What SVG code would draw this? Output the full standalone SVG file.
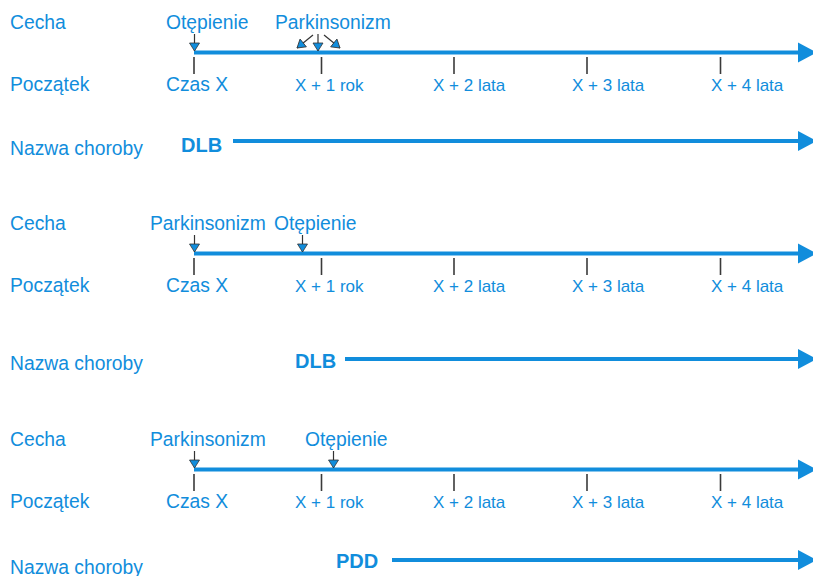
<svg xmlns="http://www.w3.org/2000/svg" width="813" height="576" viewBox="0 0 813 576">
  <style>
    text { font-family: "Liberation Sans", Arial, sans-serif; fill: #118ddc; }
    .lbl { font-size: 19.3px; }
    .tk { font-size: 17px; }
    .dis { font-size: 20px; font-weight: bold; }
    .axis { stroke: #118ddc; stroke-width: 3.8; fill: none; }
    .head { fill: #118ddc; }
    .tick { stroke: #3a3a3a; stroke-width: 1.6; }
    .ev { stroke: #333; stroke-width: 1.2; fill: none; marker-end: url(#evHead); }
  </style>
  <defs>
    <marker id="evHead" markerUnits="userSpaceOnUse" markerWidth="12" markerHeight="12" refX="8" refY="5" orient="auto" viewBox="-1 -1 12 12">
      <path d="M0,0 L8,5 L0,10 z" fill="#118ddc" stroke="#333" stroke-width="0.8"/>
    </marker>
  </defs>

  <!-- Timeline 1 -->
  <g id="row1">
    <g id="row1-labels">
      <text class="lbl" x="10" y="29">Cecha</text>
      <text class="lbl" x="10" y="91">Początek</text>
      <text class="lbl" x="10" y="155">Nazwa choroby</text>
    </g>
    <g id="row1-events">
      <text class="lbl" x="166" y="29">Otępienie</text>
      <text class="lbl" x="275" y="29">Parkinsonizm</text>
    </g>
    <g id="row1-ticks">
      <text class="lbl" x="166" y="91">Czas X</text>
      <text class="tk" x="295" y="91">X + 1 rok</text>
      <text class="tk" x="433" y="91">X + 2 lata</text>
      <text class="tk" x="572" y="91">X + 3 lata</text>
      <text class="tk" x="711" y="91">X + 4 lata</text>
    </g>
    <g id="row1-disease">
      <text class="dis" x="181" y="152">DLB</text>
    </g>
  </g>

  <!-- Timeline 2 -->
  <g id="row2">
    <g id="row2-labels">
      <text class="lbl" x="10" y="230">Cecha</text>
      <text class="lbl" x="10" y="292">Początek</text>
      <text class="lbl" x="10" y="370">Nazwa choroby</text>
    </g>
    <g id="row2-events">
      <text class="lbl" x="150" y="230">Parkinsonizm</text>
      <text class="lbl" x="274" y="230">Otępienie</text>
    </g>
    <g id="row2-ticks">
      <text class="lbl" x="166" y="292">Czas X</text>
      <text class="tk" x="295" y="292">X + 1 rok</text>
      <text class="tk" x="433" y="292">X + 2 lata</text>
      <text class="tk" x="572" y="292">X + 3 lata</text>
      <text class="tk" x="711" y="292">X + 4 lata</text>
    </g>
    <g id="row2-disease">
      <text class="dis" x="295" y="368">DLB</text>
    </g>
  </g>

  <!-- Timeline 3 -->
  <g id="row3">
    <g id="row3-labels">
      <text class="lbl" x="10" y="446">Cecha</text>
      <text class="lbl" x="10" y="508">Początek</text>
      <text class="lbl" x="10" y="574">Nazwa choroby</text>
    </g>
    <g id="row3-events">
      <text class="lbl" x="150" y="446">Parkinsonizm</text>
      <text class="lbl" x="305" y="446">Otępienie</text>
    </g>
    <g id="row3-ticks">
      <text class="lbl" x="166" y="508">Czas X</text>
      <text class="tk" x="295" y="508">X + 1 rok</text>
      <text class="tk" x="433" y="508">X + 2 lata</text>
      <text class="tk" x="572" y="508">X + 3 lata</text>
      <text class="tk" x="711" y="508">X + 4 lata</text>
    </g>
    <g id="row3-disease">
      <text class="dis" x="336" y="568">PDD</text>
    </g>
  </g>

  <!-- Axes, ticks and event pointers -->
  <g id="connectors">
    <!-- time axes -->
    <line class="axis" x1="194" y1="52.5" x2="801" y2="52.5"/>
    <polygon class="head" points="798,42.5 817,52.5 798,62.5"/>
    <line class="axis" x1="194" y1="253.5" x2="801" y2="253.5"/>
    <polygon class="head" points="798,243.5 817,253.5 798,263.5"/>
    <line class="axis" x1="194" y1="469.5" x2="801" y2="469.5"/>
    <polygon class="head" points="798,459.5 817,469.5 798,479.5"/>

    <!-- disease arrows -->
    <line class="axis" x1="233" y1="141" x2="801" y2="141"/>
    <polygon class="head" points="798,131 817,141 798,151"/>
    <line class="axis" x1="345" y1="359" x2="801" y2="359"/>
    <polygon class="head" points="798,349 817,359 798,369"/>
    <line class="axis" x1="392" y1="560" x2="801" y2="560"/>
    <polygon class="head" points="798,550 817,560 798,570"/>

    <!-- ticks -->
    <g class="tick">
      <line x1="194" y1="57" x2="194" y2="74"/>
      <line x1="321.5" y1="57" x2="321.5" y2="74"/>
      <line x1="454" y1="57" x2="454" y2="74"/>
      <line x1="587" y1="57" x2="587" y2="74"/>
      <line x1="720.5" y1="57" x2="720.5" y2="74"/>

      <line x1="194" y1="258" x2="194" y2="275"/>
      <line x1="321.5" y1="258" x2="321.5" y2="275"/>
      <line x1="454" y1="258" x2="454" y2="275"/>
      <line x1="587" y1="258" x2="587" y2="275"/>
      <line x1="720.5" y1="258" x2="720.5" y2="275"/>

      <line x1="194" y1="474" x2="194" y2="491"/>
      <line x1="321.5" y1="474" x2="321.5" y2="491"/>
      <line x1="454" y1="474" x2="454" y2="491"/>
      <line x1="587" y1="474" x2="587" y2="491"/>
      <line x1="720.5" y1="474" x2="720.5" y2="491"/>
    </g>

    <!-- event pointers -->
    <line class="ev" x1="194.5" y1="34" x2="194.5" y2="51"/>
    <line class="ev" x1="318" y1="34" x2="318" y2="51"/>
    <line class="ev" x1="313" y1="35" x2="297" y2="48"/>
    <line class="ev" x1="324" y1="35" x2="340" y2="48"/>

    <line class="ev" x1="194.5" y1="235" x2="194.5" y2="252"/>
    <line class="ev" x1="302.5" y1="235" x2="302.5" y2="252"/>

    <line class="ev" x1="194.5" y1="451" x2="194.5" y2="468"/>
    <line class="ev" x1="333.5" y1="451" x2="333.5" y2="468"/>
  </g>
</svg>
